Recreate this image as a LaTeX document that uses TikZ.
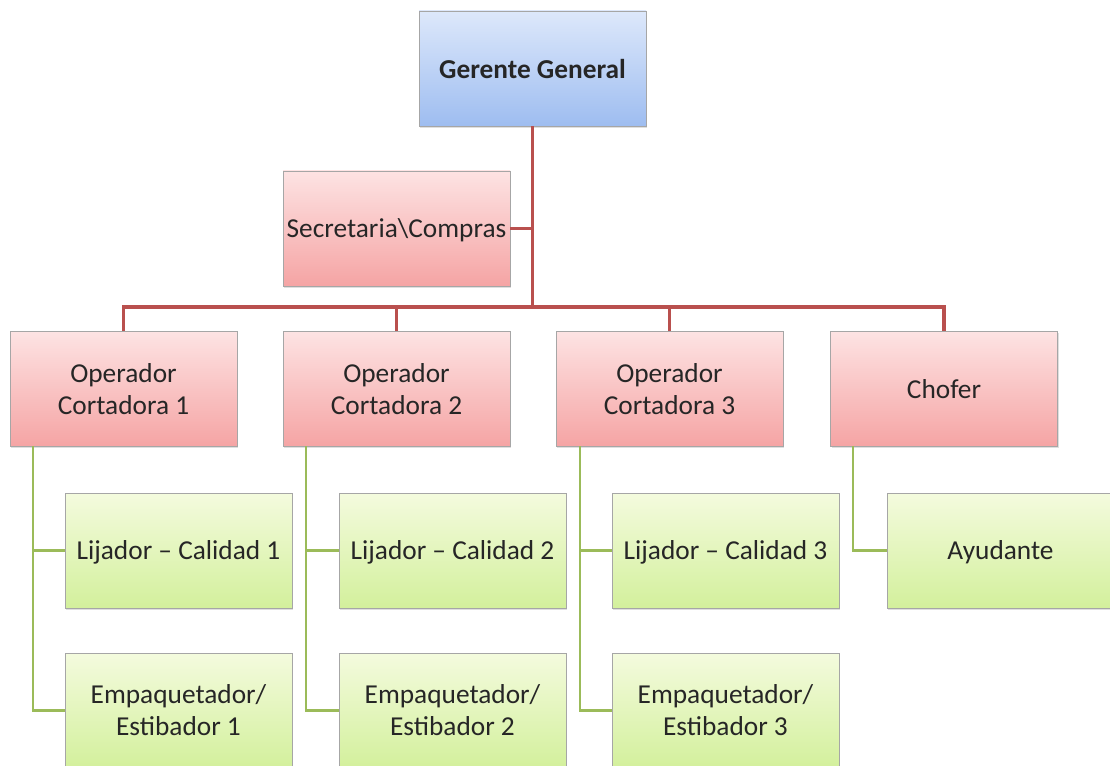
\documentclass[tikz,border=0pt]{standalone}
\usepackage{fontspec}
\setmainfont{Carlito}
\usetikzlibrary{shadows}
\definecolor{bluetop}{HTML}{DDE8FB}
\definecolor{bluebot}{HTML}{9EBDF0}
\definecolor{redtop}{HTML}{FDE3E3}
\definecolor{redbot}{HTML}{F5A4A4}
\definecolor{greentop}{HTML}{F4FBDE}
\definecolor{greenbot}{HTML}{D3F09C}
\definecolor{redline}{HTML}{B9504E}
\definecolor{greenline}{HTML}{9BBB59}
\definecolor{boxborder}{HTML}{A6A6A6}
\tikzset{
  orgbox/.style={rectangle, draw=boxborder, line width=0.5pt, minimum width=170.25pt,
    minimum height=86.25pt, inner sep=0pt, align=center,
    font=\fontsize{20.5}{24}\selectfont, text=black!85,
    text depth=-1.5pt,
    drop shadow={opacity=0.25, shadow xshift=0.8pt, shadow yshift=-1.2pt}},
  bluebox/.style={orgbox, top color=bluetop, bottom color=bluebot, font=\fontsize{20.5}{24}\selectfont\bfseries},
  redbox/.style={orgbox, top color=redtop, bottom color=redbot},
  greenbox/.style={orgbox, top color=greentop, bottom color=greenbot},
  redconn/.style={draw=redline, line width=2.4pt},
  greenconn/.style={draw=greenline, line width=1.8pt}
}
\begin{document}
\begin{tikzpicture}[x=0.75pt,y=-0.75pt]
\useasboundingbox (0,0) rectangle (1110,766);
\clip (0,0) rectangle (1110,766);
\fill[white] (0,0) rectangle (1110,766);

\coordinate (bar) at (0,307);

\node[bluebox] (gg) at (532.5,68.5) {Gerente General};
\node[redbox] (sec) at (396.5,228.5) {Secretaria\textbackslash Compras};

\node[redbox] (op1) at (123.5,389) {Operador\\Cortadora 1};
\node[redbox] (op2) at (396.5,389) {Operador\\Cortadora 2};
\node[redbox] (op3) at (669.5,389) {Operador\\Cortadora 3};
\node[redbox] (ch) at (944,389) {Chofer};

\node[greenbox] (lij1) at (178.5,550.5) {Lijador – Calidad 1};
\node[greenbox] (lij2) at (452.5,550.5) {Lijador – Calidad 2};
\node[greenbox] (lij3) at (725.5,550.5) {Lijador – Calidad 3};
\node[greenbox] (ayu) at (1000.5,550.5) {Ayudante};

\node[greenbox] (emp1) at (178.5,710.5) {Empaquetador/\\Estibador 1};
\node[greenbox] (emp2) at (452.5,710.5) {Empaquetador/\\Estibador 2};
\node[greenbox] (emp3) at (725.5,710.5) {Empaquetador/\\Estibador 3};

\coordinate (g1) at (33,446);
\coordinate (g2) at (306,446);
\coordinate (g3) at (580,446);
\coordinate (g4) at (853,446);

% red connectors
\draw[redconn] (gg.south) -- (gg.south |- bar);
\draw[redconn] (sec.east) -- (sec.east -| gg.south);
\draw[redconn] (op1.north) -- (op1.north |- bar) -- (ch.north |- bar) -- (ch.north);
\draw[redconn] (op2.north) -- (op2.north |- bar);
\draw[redconn] (op3.north) -- (op3.north |- bar);

% green connectors
\draw[greenconn] (g1) |- (lij1.west);
\draw[greenconn] (g1) |- (emp1.west);
\draw[greenconn] (g2) |- (lij2.west);
\draw[greenconn] (g2) |- (emp2.west);
\draw[greenconn] (g3) |- (lij3.west);
\draw[greenconn] (g3) |- (emp3.west);
\draw[greenconn] (g4) |- (ayu.west);
\end{tikzpicture}
\end{document}
